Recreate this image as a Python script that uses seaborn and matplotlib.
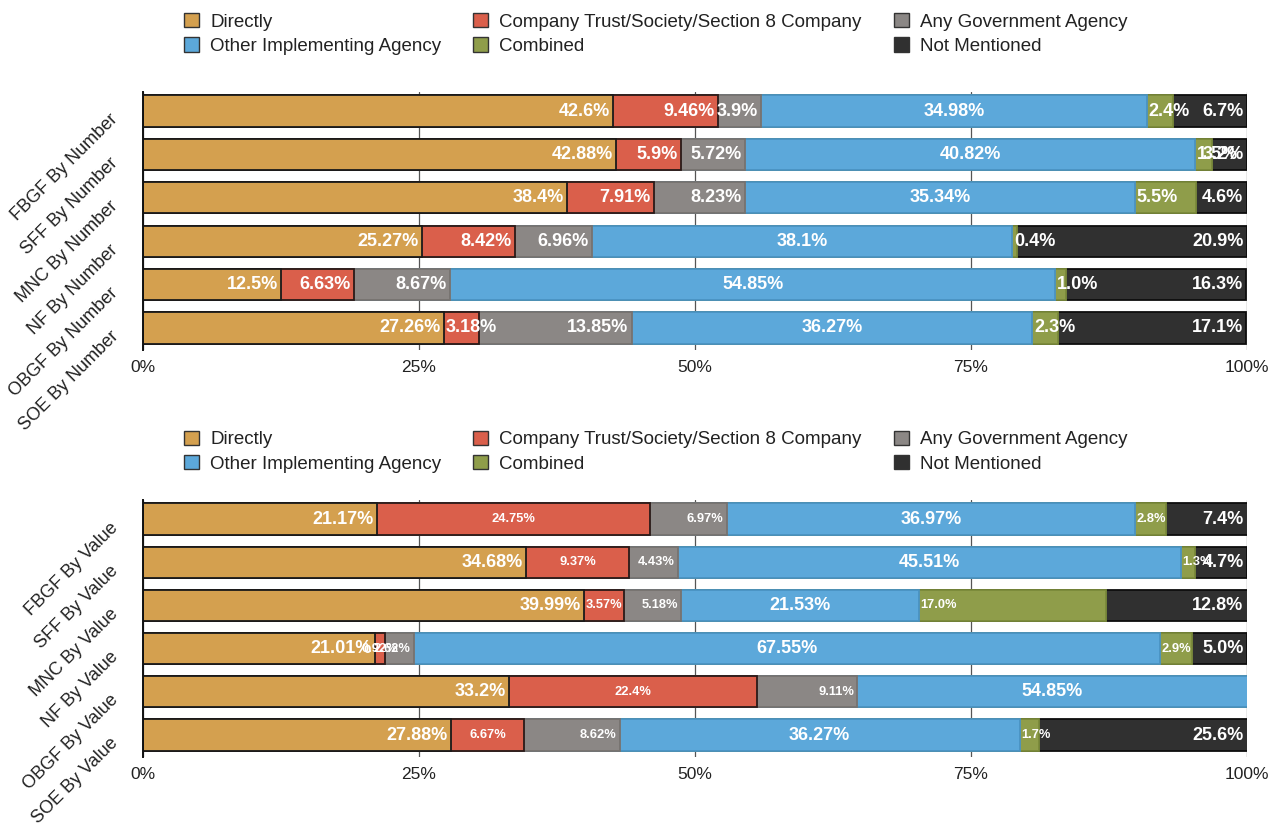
import numpy as np
import pandas as pd
import matplotlib
matplotlib.use("Agg")
import matplotlib.pyplot as plt
from matplotlib.patches import Patch
import seaborn as sns

# ---------------- data ----------------
series_names = ["Directly", "Company Trust/Society/Section 8 Company", "Any Government Agency",
                "Other Implementing Agency", "Combined", "Not Mentioned"]

number_labels = ["FBGF By Number", "SFF By Number", "MNC By Number",
                 "NF By Number", "OBGF By Number", "SOE By Number"]
value_labels = ["FBGF By Value", "SFF By Value", "MNC By Value",
                "NF By Value", "OBGF By Value", "SOE By Value"]

num_directly = [42.6, 42.88, 38.4, 25.27, 12.5, 27.26]
num_trust = [9.46, 5.9, 7.91, 8.42, 6.63, 3.18]
num_govt = [3.9, 5.72, 8.23, 6.96, 8.67, 13.85]
num_other = [34.98, 40.82, 35.34, 38.1, 54.85, 36.27]
num_combined = [2.4, 1.5, 5.5, 0.4, 1.0, 2.3]
num_not_mentioned = [6.7, 3.2, 4.6, 20.9, 16.3, 17.1]

val_directly = [21.17, 34.68, 39.99, 21.01, 33.2, 27.88]
val_trust = [24.75, 9.37, 3.57, 0.92, 22.4, 6.67]
val_govt = [6.97, 4.43, 5.18, 2.62, 9.11, 8.62]
val_other = [36.97, 45.51, 21.53, 67.55, 54.85, 36.27]
val_combined = [2.8, 1.3, 17.0, 2.9, 0.0, 1.7]
val_not_mentioned = [7.4, 4.7, 12.8, 5.0, 0.0, 25.6]

x_ticks = [0, 25, 50, 75, 100]
x_tick_labels = ["0%", "25%", "50%", "75%", "100%"]

# ---------------- style ----------------
fills = ["#D4A04F", "#DA5F4B", "#8B8785", "#5CA8DA", "#8F9D4A", "#303030"]
edges = ["#1a1a1a", "#2a1a18", "#77726f", "#4a92c2", "#7a8a3a", "#0d0d0d"]

sns.set_theme(style="white")
plt.rcParams["font.family"] = ["Liberation Sans", "DejaVu Sans"]

# alignment of the value text inside each segment
top_align = ["right", "fit_right_else_left", "right", "center", "left", "right"]
top_size = [13, 13, 13, 13, 13, 13]
top_weight = ["bold"] * 6
bot_align = ["right", "center", "right", "center", "left", "right"]
bot_size = [13, 9.3, 9.3, 13, 9.3, 13]
bot_weight = ["bold"] * 6

fig = plt.figure(figsize=(12.81, 8.32), dpi=100)
fig.patch.set_facecolor("white")
renderer = fig.canvas.get_renderer()


def draw_panel(ax, cats, series, align, sizes, weights):
    df = pd.DataFrame({n: v for n, v in zip(series_names, series)}, index=cats)
    cum = df.cumsum(axis=1)
    for i in reversed(range(len(series_names))):
        name = series_names[i]
        sns.barplot(x=cum[name].values, y=cats, order=cats, orient="h",
                    color=fills[i], edgecolor=edges[i], linewidth=1.3,
                    width=0.72, errorbar=None, saturation=1, ax=ax)
    ax.set_xlim(0, 100)
    ax.set_ylim(5.51, -0.44)
    px_per_unit = ax.get_window_extent(renderer).width / 100.0
    # labels
    for r, cat in enumerate(cats):
        start = 0.0
        for i, name in enumerate(series_names):
            v = df.loc[cat, name]
            left = start
            right = min(start + v, 100.0)
            start += v
            if v <= 0:
                continue
            t = ax.text(0, r, f"{v}%", va="center", color="white",
                        fontsize=sizes[i], fontweight=weights[i], zorder=5)
            mode = align[i]
            if mode == "fit_right_else_left":
                w = t.get_window_extent(renderer).width / px_per_unit
                mode = "right" if w + 0.5 <= (right - left) else "left"
            if mode == "right":
                t.set_x(right - 0.3)
                t.set_ha("right")
            elif mode == "left":
                t.set_x(left + 0.15)
                t.set_ha("left")
            else:
                t.set_x((left + right) / 2)
                t.set_ha("center")
    ax.set_xticks(x_ticks)
    ax.set_xticklabels(x_tick_labels, fontsize=12.5, color="#222222")
    ax.set_yticks(range(len(cats)))
    ax.set_yticklabels(cats, rotation=45, ha="right", va="top",
                       rotation_mode="anchor", fontsize=13, color="#222222")
    ax.tick_params(axis="x", length=0, pad=7)
    ax.tick_params(axis="y", length=0, pad=24)
    ax.set_xlabel("")
    ax.set_ylabel("")
    ax.xaxis.grid(True, color="#555555", linewidth=0.9)
    ax.yaxis.grid(False)
    ax.set_axisbelow(True)
    for s in ["top", "right", "bottom"]:
        ax.spines[s].set_visible(False)
    ax.spines["left"].set_visible(True)
    ax.spines["left"].set_color("#111111")
    ax.spines["left"].set_linewidth(1.4)


ax1 = fig.add_axes([0.1116, 0.5793, 0.8618, 0.3101])
ax2 = fig.add_axes([0.1116, 0.0901, 0.8618, 0.3089])

draw_panel(ax1, number_labels,
           [num_directly, num_trust, num_govt, num_other, num_combined, num_not_mentioned],
           top_align, top_size, top_weight)
draw_panel(ax2, value_labels,
           [val_directly, val_trust, val_govt, val_other, val_combined, val_not_mentioned],
           bot_align, bot_size, bot_weight)

handles = [Patch(facecolor=fills[i], edgecolor="#333333", linewidth=1.0) for i in range(6)]
order = [0, 3, 1, 4, 2, 5]
for ytop in (0.9845, 0.4825):
    fig.legend([handles[i] for i in order], [series_names[i] for i in order],
               ncol=3, loc="upper left", bbox_to_anchor=(0.1435, ytop),
               frameon=False, fontsize=13.5, handlelength=0.8, handleheight=0.8,
               handletextpad=0.6, columnspacing=1.7, labelspacing=0.36,
               borderpad=0, borderaxespad=0, labelcolor="#222222")

fig.savefig("out.png", dpi=100, facecolor="white")
